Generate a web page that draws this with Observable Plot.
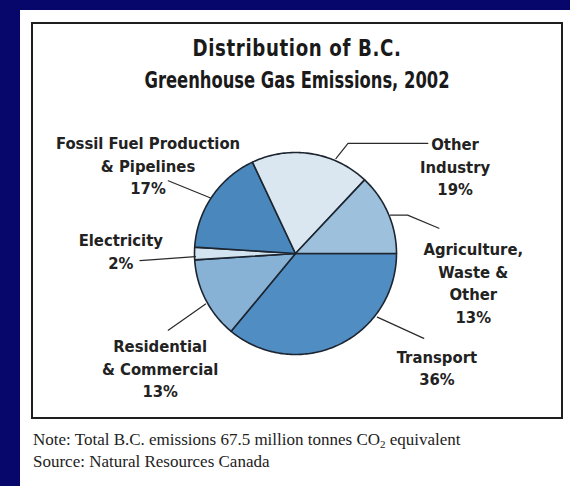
<!DOCTYPE html>
<html><head><meta charset="utf-8">
<script src="https://cdn.jsdelivr.net/npm/d3@7"></script>
<script src="https://cdn.jsdelivr.net/npm/@observablehq/plot@0.6"></script>
<style>
html,body{margin:0;padding:0;background:#07076b;width:570px;height:486px;overflow:hidden}
#panel{position:absolute;left:20px;top:10px;width:550px;height:476px;background:#fff}
#box{position:absolute;left:31px;top:22px;width:528px;height:393px;border:2px solid #1e1e1e;background:#fff}
#title{position:absolute;left:0;top:8px;width:100%;text-align:center;font-family:"Liberation Sans Narrow","DejaVu Sans Condensed","Liberation Sans",sans-serif;font-weight:bold;font-size:23px;line-height:32px;color:#1a1a1a}
#title span{display:block;transform-origin:center}
#t1{transform:scaleX(0.88);letter-spacing:0.7px}
#t2{transform:scaleX(0.79)}
#chart{position:absolute;left:0;top:76px}
#note{position:absolute;left:33px;top:429px;font-family:"Liberation Serif",serif;font-size:17px;color:#222;line-height:22px}
#note sub{font-size:11px;vertical-align:-3px;line-height:0}
</style>
</head><body>
<div id="panel"></div>
<div id="box">
  <div id="title"><span id="t1">Distribution of B.C.</span><span id="t2">Greenhouse Gas Emissions, 2002</span></div>
  <div id="chart"></div>
</div>
<div id="note">Note: Total B.C. emissions 67.5 million tonnes CO<sub>2</sub> equivalent<br>Source: Natural Resources Canada</div>
<script>
// ---- data ----
const categories = ["Transport", "Residential & Commercial", "Electricity", "Fossil Fuel Production & Pipelines", "Other Industry", "Agriculture, Waste & Other"];
const shares = [36, 13, 2, 17, 19, 13];
const labelNames = ["Transport", "Residential\n& Commercial", "Electricity", "Fossil Fuel Production\n& Pipelines", "Other\nIndustry", "Agriculture,\nWaste &\nOther"];
const sliceColors = ["#508dc3", "#88b1d6", "#d3e3ef", "#4a87bd", "#dbe7f0", "#9dc0dd"];

// ---- layout (in pie-radius units, centre = 0,0, y up) ----
const labelPos = [[1.40, -1.12], [-1.34, -1.13], [-1.73, 0.03], [-1.46, 0.88], [1.58, 0.87], [1.76, -0.28]];
const leaderPaths = [
  [[0.81, -0.63], [1.27, -0.84]],
  [[-0.89, -0.50], [-1.26, -0.76]],
  [[-0.99, -0.03], [-1.54, -0.07]],
  [[-0.84, 0.55], [-1.26, 0.72]],
  [[0.40, 0.94], [0.52, 1.09], [1.31, 1.09]],
  [[0.94, 0.38], [1.11, 0.38], [1.42, 0.25]]
];

const W = 528, H = 317, R = 101, CX = 262, CY = 153;

const total = d3.sum(shares);
const ends = d3.cumsum(shares).map(v => v / total);
const slicePts = [];
categories.forEach((name, i) => {
  const t0 = i === 0 ? 0 : ends[i - 1], t1 = ends[i];
  slicePts.push({name, x: 0, y: 0});
  const n = Math.max(2, Math.ceil((t1 - t0) * 360));
  for (let k = 0; k <= n; k++) {
    const a = -2 * Math.PI * (t0 + (t1 - t0) * k / n);
    slicePts.push({name, x: Math.cos(a), y: Math.sin(a)});
  }
});
const leaderPts = leaderPaths.flatMap((p, i) => p.map(([x, y]) => ({name: categories[i], x, y})));
const labels = categories.map((name, i) => ({name, x: labelPos[i][0], y: labelPos[i][1], text: labelNames[i] + "\n" + shares[i] + "%"}));

const chart = Plot.plot({
  width: W, height: H, margin: 0,
  x: {domain: [-CX / R, (W - CX) / R], axis: null},
  y: {domain: [-(H - CY) / R, CY / R], axis: null},
  color: {domain: categories, range: sliceColors},
  style: {background: "transparent", overflow: "visible"},
  marks: [
    Plot.line(slicePts, {x: "x", y: "y", z: "name", fill: "name", stroke: "#1c2530", strokeWidth: 1.6, curve: "linear-closed"}),
    Plot.line(leaderPts, {x: "x", y: "y", z: "name", stroke: "#2a2a2a", strokeWidth: 1.2}),
    Plot.text(labels, {x: "x", y: "y", text: "text", lineAnchor: "middle", lineHeight: 1.36, fontSize: 16.5, fontWeight: "bold", fill: "#222",
      fontFamily: "'Liberation Sans Narrow','DejaVu Sans Condensed','Liberation Sans',sans-serif"})
  ]
});
document.getElementById("chart").appendChild(chart);
</script>
</body></html>
